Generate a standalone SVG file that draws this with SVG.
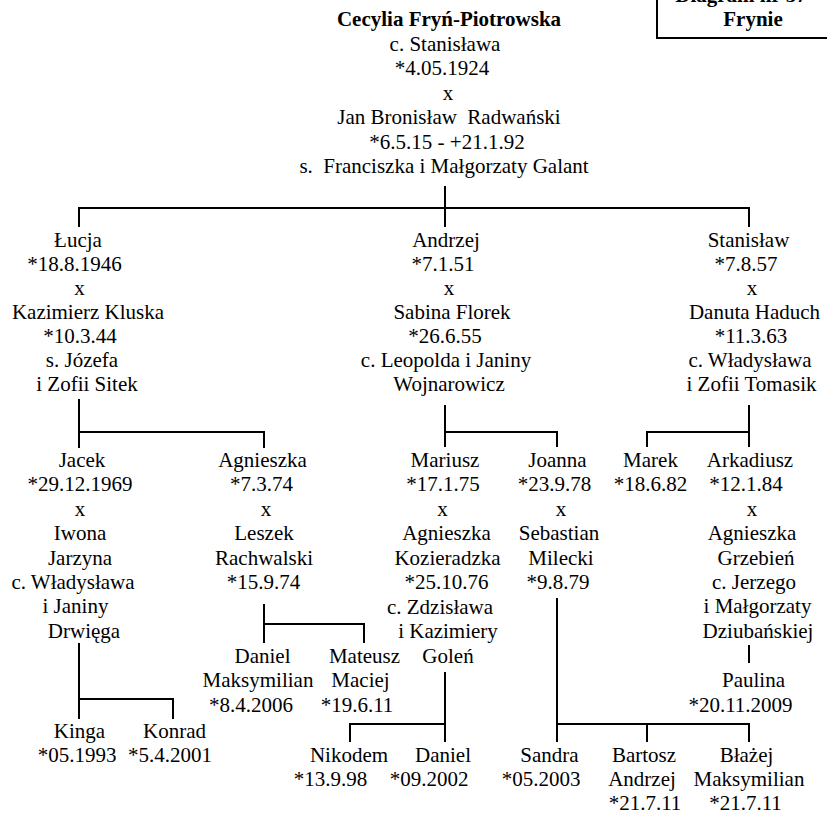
<svg xmlns="http://www.w3.org/2000/svg" width="827" height="815" viewBox="0 0 827 815">
<style>
.t{font-family:"Liberation Serif","Times New Roman",serif;font-size:21px;text-anchor:middle;fill:#000}
.b{font-weight:bold}
.c{fill:none;stroke:#000;stroke-width:2}
</style>
<rect width="827" height="815" fill="#fff"/>
<g id="label-box">
<rect class="c" x="657" y="-10" width="200" height="48"/>
<text class="t b" x="741" y="2">Diagram nr 37</text>
<text class="t b" x="753" y="26">Frynie</text>
</g>
<g id="connectors" class="c">
<path d="M445,186 V227 M79,227 V208 H749 V227"/>
<path d="M79,399 V448 M79,432 H264 V448"/>
<path d="M445,405 V447 M445,432 H557 V447"/>
<path d="M749,405 V447 M749,432 H647 V447"/>
<path d="M79,643 V719 M79,699 H173 V719"/>
<path d="M264,604 V643 M264,624 H364 V643"/>
<path d="M445,672 V742 M445,724 H350 V742"/>
<path d="M557,598 V742 M557,724 H749 V742 M647,724 V742"/>
<path d="M749,645 V663"/>
</g>
<g id="cecylia">
<text class="t b" x="449" y="26">Cecylia Fryń-Piotrowska</text>
<text class="t" x="445" y="50.5">c. Stanisława</text>
<text class="t" x="442" y="75">*4.05.1924</text>
<text class="t" x="448" y="99.5">x</text>
<text class="t" x="449" y="124" xml:space="preserve">Jan Bronisław  Radwański</text>
<text class="t" x="447" y="148.5">*6.5.15 - +21.1.92</text>
<text class="t" x="444" y="173" xml:space="preserve">s.  Franciszka i Małgorzaty Galant</text>
</g>
<g id="lucja">
<text class="t" x="78" y="247">Łucja</text>
<text class="t" x="74.5" y="271">*18.8.1946</text>
<text class="t" x="79.5" y="295">x</text>
<text class="t" x="88" y="319">Kazimierz Kluska</text>
<text class="t" x="80" y="343">*10.3.44</text>
<text class="t" x="82" y="367">s. Józefa</text>
<text class="t" x="87" y="391">i Zofii Sitek</text>
</g>
<g id="andrzej">
<text class="t" x="446" y="247">Andrzej</text>
<text class="t" x="443" y="271">*7.1.51</text>
<text class="t" x="449" y="295">x</text>
<text class="t" x="452" y="319">Sabina Florek</text>
<text class="t" x="445" y="343">*26.6.55</text>
<text class="t" x="446" y="367">c. Leopolda i Janiny</text>
<text class="t" x="449" y="391">Wojnarowicz</text>
</g>
<g id="stanislaw">
<text class="t" x="748.5" y="247">Stanisław</text>
<text class="t" x="746" y="271">*7.8.57</text>
<text class="t" x="752" y="295">x</text>
<text class="t" x="754.5" y="319">Danuta Haduch</text>
<text class="t" x="751" y="343">*11.3.63</text>
<text class="t" x="750" y="367">c. Władysława</text>
<text class="t" x="751.5" y="391">i Zofii Tomasik</text>
</g>
<g id="jacek">
<text class="t" x="82" y="467">Jacek</text>
<text class="t" x="80" y="491">*29.12.1969</text>
<text class="t" x="80" y="516">x</text>
<text class="t" x="80" y="540">Iwona</text>
<text class="t" x="80" y="565">Jarzyna</text>
<text class="t" x="73" y="589">c. Władysława</text>
<text class="t" x="75.5" y="613">i Janiny</text>
<text class="t" x="84" y="638">Drwięga</text>
</g>
<g id="agnieszka">
<text class="t" x="262.5" y="467">Agnieszka</text>
<text class="t" x="261.5" y="491">*7.3.74</text>
<text class="t" x="266" y="516">x</text>
<text class="t" x="264" y="540">Leszek</text>
<text class="t" x="264" y="565">Rachwalski</text>
<text class="t" x="263.5" y="589">*15.9.74</text>
</g>
<g id="mariusz">
<text class="t" x="445" y="467">Mariusz</text>
<text class="t" x="443" y="491">*17.1.75</text>
<text class="t" x="442.5" y="516">x</text>
<text class="t" x="446.5" y="540">Agnieszka</text>
<text class="t" x="447.5" y="565">Kozieradzka</text>
<text class="t" x="446.5" y="589">*25.10.76</text>
<text class="t" x="440" y="614">c. Zdzisława</text>
<text class="t" x="448" y="638">i Kazimiery</text>
<text class="t" x="448" y="663">Goleń</text>
</g>
<g id="joanna">
<text class="t" x="557.5" y="467">Joanna</text>
<text class="t" x="554.5" y="491">*23.9.78</text>
<text class="t" x="561" y="516">x</text>
<text class="t" x="559" y="540">Sebastian</text>
<text class="t" x="561" y="565">Milecki</text>
<text class="t" x="558" y="589">*9.8.79</text>
</g>
<g id="marek">
<text class="t" x="650.5" y="467">Marek</text>
<text class="t" x="650.5" y="491">*18.6.82</text>
</g>
<g id="arkadiusz">
<text class="t" x="750" y="467">Arkadiusz</text>
<text class="t" x="746" y="491">*12.1.84</text>
<text class="t" x="752" y="516">x</text>
<text class="t" x="752" y="540">Agnieszka</text>
<text class="t" x="756" y="565">Grzebień</text>
<text class="t" x="754" y="589">c. Jerzego</text>
<text class="t" x="757.5" y="613">i Małgorzaty</text>
<text class="t" x="758" y="638">Dziubańskiej</text>
</g>
<g id="kinga">
<text class="t" x="79.5" y="738">Kinga</text>
<text class="t" x="77" y="762">*05.1993</text>
</g>
<g id="konrad">
<text class="t" x="174.5" y="738">Konrad</text>
<text class="t" x="170" y="762">*5.4.2001</text>
</g>
<g id="daniel-maksymilian">
<text class="t" x="262.5" y="663">Daniel</text>
<text class="t" x="258" y="687">Maksymilian</text>
<text class="t" x="251" y="712">*8.4.2006</text>
</g>
<g id="mateusz">
<text class="t" x="364.5" y="663">Mateusz</text>
<text class="t" x="360.5" y="687">Maciej</text>
<text class="t" x="357" y="712">*19.6.11</text>
</g>
<g id="paulina">
<text class="t" x="753.5" y="687">Paulina</text>
<text class="t" x="740.5" y="712">*20.11.2009</text>
</g>
<g id="nikodem">
<text class="t" x="349" y="762">Nikodem</text>
<text class="t" x="330.5" y="786">*13.9.98</text>
</g>
<g id="daniel">
<text class="t" x="443" y="762">Daniel</text>
<text class="t" x="429" y="786">*09.2002</text>
</g>
<g id="sandra">
<text class="t" x="549.5" y="762">Sandra</text>
<text class="t" x="541" y="786">*05.2003</text>
</g>
<g id="bartosz">
<text class="t" x="644" y="762">Bartosz</text>
<text class="t" x="642" y="786">Andrzej</text>
<text class="t" x="645" y="810">*21.7.11</text>
</g>
<g id="blazej">
<text class="t" x="746.5" y="762">Błażej</text>
<text class="t" x="749" y="786">Maksymilian</text>
<text class="t" x="745.5" y="810">*21.7.11</text>
</g>
</svg>
